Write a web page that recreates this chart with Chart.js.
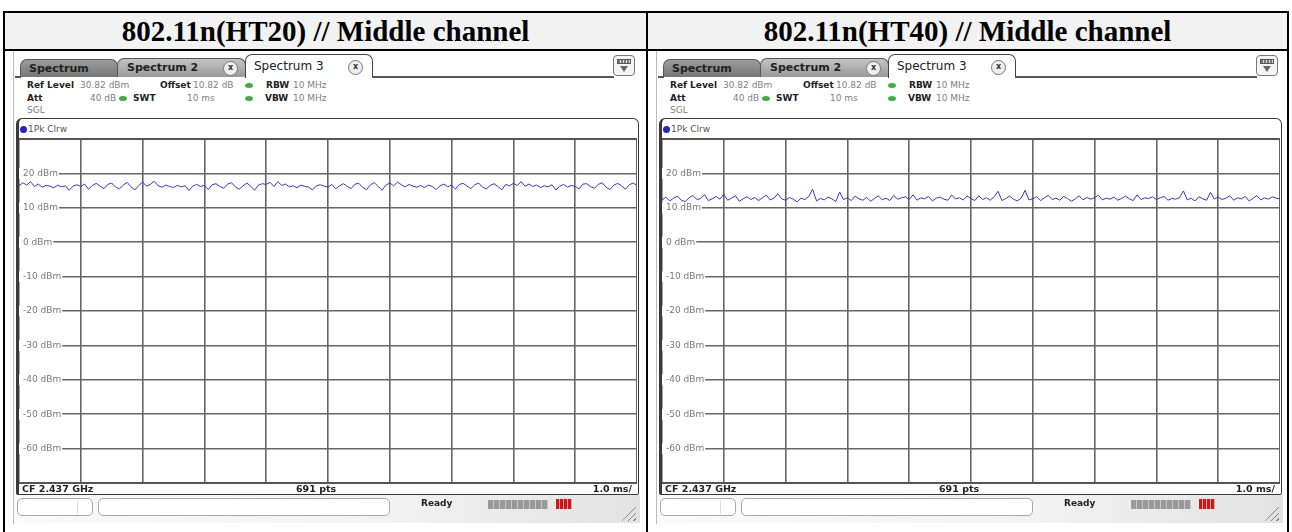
<!DOCTYPE html>
<html>
<head>
<meta charset="utf-8">
<script src="https://cdn.jsdelivr.net/npm/chart.js@4.4.1/dist/chart.umd.min.js"></script>
<style>
  body { margin: 0; width: 1292px; height: 532px; overflow: hidden; background: #fff; position: relative; font-family: "DejaVu Sans", sans-serif; }
  .a { position: absolute; box-sizing: border-box; }
  .line { position: absolute; background: #000; }
  .hdr { position: absolute; top: 13px; height: 36px; background: #f2f2f2; font: bold 29px "Liberation Serif", serif; color: #000; text-align: center; line-height: 36px; }
  .shot { background: #fff; border-left: 1px solid #bbb; }
  .tab { font-size: 11px; font-weight: bold; color: #222; border: 1px solid #555; border-bottom: none; border-radius: 7px 7px 0 0; padding-left: 8px; line-height: 17px; }
  .t1 { background: linear-gradient(#9c9c9c, #767676); }
  .t2 { background: linear-gradient(#c4c4c4, #999); }
  .t3 { background: #fff; font-weight: normal; font-size: 12px; line-height: 22px; border-color: #444; }
  .xb { position: absolute; top: 50%; margin-top: -7px; width: 13px; height: 13px; border: 1px solid #777; border-radius: 50%; font: bold 8px "DejaVu Sans"; line-height: 12px; text-align: center; color: #333; background: #eee; }
  .info { position: absolute; font-size: 9px; line-height: 12px; color: #808080; white-space: nowrap; }
  .info b { color: #222; }
  .gd { position: absolute; width: 8px; height: 5px; border-radius: 50%; background: #3fae3f; }
  .panel { border: 1.5px solid #3a3a3a; border-left: 3px solid #3a3a3a; border-radius: 6px 6px 2px 2px; background: #fff; }
  .foot { position: absolute; font-size: 9.5px; font-weight: bold; color: #222; line-height: 12px; white-space: nowrap; }
  .sbox { border: 1px solid #a8a8a8; border-radius: 5px; background: #fff; }
</style>
</head>
<body>
<div id="root"></div>
<script>
// header texts of the two table cells
const cellTitles = ['802.11n(HT20) // Middle channel', '802.11n(HT40) // Middle channel'];

// sweep settings shown on the analyzer
const sweepMs = 10;
const yMin = -70;
const yMax = 30;
const yStep = 10;

// trace, 16 points per 1 ms division
const ht20Trace = [
  16.4, 17.3, 16.6, 17.6, 16.2, 16.9, 16.0, 16.5, 16.3, 15.8, 16.6, 16.1, 16.4, 15.1, 16.3, 16.7,
  16.2, 16.9, 15.4, 16.5, 17.1, 16.3, 15.6, 16.8, 17.2, 16.0, 15.5, 16.6, 17.4, 16.1, 15.2, 16.5,
  17.5, 16.3, 16.8, 17.7, 16.4, 16.0, 16.6, 16.2, 15.9, 16.5, 16.1, 16.4, 15.0, 16.3, 16.8, 16.2,
  16.5, 15.3, 16.7, 17.0, 16.2, 15.7, 16.9, 17.3, 16.1, 15.4, 16.4, 17.2, 16.3, 15.1, 16.6, 17.0,
  16.8, 17.4, 16.2, 17.6, 16.5, 16.9, 16.1, 16.4, 15.8, 16.6, 16.2, 16.0, 15.2, 16.4, 16.7, 16.3,
  16.0, 16.8, 15.5, 16.4, 17.0, 16.2, 15.6, 16.9, 17.1, 15.9, 15.3, 16.7, 17.3, 16.2, 15.1, 16.6,
  17.2, 16.4, 17.5, 16.7, 16.1, 16.8, 16.3, 16.0, 16.5, 15.9, 16.6, 16.2, 15.3, 16.4, 16.9, 16.1,
  16.6, 15.4, 16.8, 17.1, 16.3, 15.6, 16.7, 17.2, 16.0, 15.5, 16.5, 17.0, 16.2, 15.2, 16.8, 16.4,
  17.1, 16.5, 17.6, 16.3, 16.9, 16.2, 16.6, 15.9, 16.4, 16.1, 16.7, 15.2, 16.3, 16.8, 16.0, 16.5,
  16.2, 15.5, 16.9, 17.0, 16.1, 15.7, 16.8, 17.3, 16.0, 15.3, 16.6, 17.1, 16.4, 15.4, 16.7, 17.2,
  16.5
];

const ht40Trace = [
  12.3, 13.1, 12.0, 12.8, 13.4, 12.2, 11.8, 12.9, 13.6, 12.4, 12.7, 13.8, 12.1, 12.6, 13.3, 12.5,
  13.9, 12.2, 12.8, 13.5, 11.9, 12.6, 13.2, 12.4, 13.0, 12.1, 12.9, 13.7, 12.3, 12.8, 14.1, 12.6,
  12.2, 13.0, 12.5, 11.7, 12.8, 12.4, 13.3, 15.4, 12.0, 12.7, 12.3, 13.1, 12.6, 11.8, 14.6, 12.4,
  12.9, 12.1, 13.4, 12.6, 12.2, 13.0, 11.9, 12.7, 13.5, 12.3, 12.8, 12.1, 13.6, 12.5, 12.9, 13.2,
  12.4, 13.8, 12.2, 12.9, 12.6, 13.3, 12.0, 12.8, 13.1, 12.5, 12.2, 13.7, 12.6, 12.9, 12.3, 13.4,
  12.7, 12.1, 13.5, 12.4, 12.9, 12.2, 13.2, 14.8, 12.1, 12.7, 13.4, 12.5, 12.0, 12.8, 15.1, 12.3,
  12.6, 13.2, 12.1, 12.9, 13.6, 12.4, 12.8, 12.2, 13.3, 12.7, 11.9, 12.6, 13.5, 12.3, 13.0, 12.5,
  12.9, 13.7, 12.3, 12.8, 12.5, 13.1, 12.2, 12.7, 13.4, 12.6, 12.1, 13.8, 12.4, 12.9, 12.7, 13.2,
  12.4, 12.9, 13.3, 12.2, 12.7, 12.5, 13.0, 14.9, 12.3, 12.8, 12.0, 13.2, 12.6, 12.2, 14.5, 12.6,
  13.1, 12.4, 12.8, 13.5, 12.2, 12.9, 12.6, 13.3, 12.0, 12.7, 13.6, 12.3, 12.9, 12.5, 13.2, 12.8,
  12.6
];

const gridColor = '#666';

function panelHtml(dx, id) {
  const L = v => v + dx;
  return `
  <div class="a shot" style="left:${L(13)}px;top:51px;width:628px;height:473px"></div>
  <div class="a" style="left:${L(14)}px;top:495px;width:626px;height:28px;background:linear-gradient(90deg,#fafafa 0%,#f2f2f2 60%,#e2e2e2 100%)"></div>
  <div class="a tab t1" style="left:${L(20)}px;top:59px;width:98px;height:18px">Spectrum</div>
  <div class="a tab t2" style="left:${L(117)}px;top:58px;width:129px;height:19px;padding-left:9px">Spectrum 2<span class="xb" style="left:105px">x</span></div>
  <div class="a tab t3" style="left:${L(245)}px;top:54px;width:128px;height:24px">Spectrum 3<span class="xb" style="left:102px">x</span></div>
  <div class="a" style="left:${L(372)}px;top:76px;width:242px;height:2px;background:#555"></div>
  <div class="a" style="left:${L(15)}px;top:76px;width:6px;height:2px;background:#555"></div>
  <div class="a" style="left:${L(613)}px;top:55px;width:22px;height:21px;border:1px solid #777;border-radius:4px;background:#f4f4f4"></div>
  <div class="a" style="left:${L(617)}px;top:59px;width:14px;height:5px;background:repeating-linear-gradient(90deg,#777 0 2px,#ddd 2px 3px);border:1px solid #555"></div>
  <div class="a" style="left:${L(620)}px;top:66px;width:0;height:0;border-left:4px solid transparent;border-right:4px solid transparent;border-top:6px solid #666"></div>

  <div class="info" style="left:${L(27)}px;top:79px"><b>Ref Level</b></div>
  <div class="info" style="left:${L(80)}px;top:79px">30.82 dBm</div>
  <div class="info" style="left:${L(160)}px;top:79px"><b>Offset</b></div>
  <div class="info" style="left:${L(193)}px;top:79px">10.82 dB</div>
  <div class="gd" style="left:${L(245)}px;top:83px"></div>
  <div class="info" style="left:${L(266)}px;top:79px"><b>RBW</b></div>
  <div class="info" style="left:${L(293)}px;top:79px">10 MHz</div>

  <div class="info" style="left:${L(27)}px;top:92px"><b>Att</b></div>
  <div class="info" style="left:${L(90)}px;top:92px">40 dB</div>
  <div class="gd" style="left:${L(119)}px;top:96px"></div>
  <div class="info" style="left:${L(133)}px;top:92px"><b>SWT</b></div>
  <div class="info" style="left:${L(187)}px;top:92px">10 ms</div>
  <div class="gd" style="left:${L(245)}px;top:96px"></div>
  <div class="info" style="left:${L(265)}px;top:92px"><b>VBW</b></div>
  <div class="info" style="left:${L(293)}px;top:92px">10 MHz</div>

  <div class="info" style="left:${L(27)}px;top:104px">SGL</div>

  <div class="a panel" style="left:${L(16)}px;top:118px;width:623px;height:377px"></div>
  <div class="a" style="left:${L(20)}px;top:126px;width:7px;height:7px;border-radius:50%;background:#2424c8"></div>
  <div class="info" style="left:${L(28)}px;top:123px;color:#555">1Pk Clrw</div>
  <canvas id="${id}" class="a" width="618" height="344" style="left:${L(19)}px;top:139px;width:618px;height:344px"></canvas>
  <div class="a" style="left:${L(19)}px;top:138px;width:618px;height:2px;background:#555"></div>
  <div class="a" style="left:${L(19)}px;top:482px;width:618px;height:2px;background:#555"></div>

  <div class="foot" style="left:${L(22)}px;top:483px">CF 2.437 GHz</div>
  <div class="foot" style="left:${L(296)}px;top:483px">691 pts</div>
  <div class="foot" style="left:${L(582)}px;top:483px;width:50px;text-align:right">1.0 ms/</div>

  <div class="a sbox" style="left:${L(17)}px;top:498px;width:76px;height:18px"></div>
  <div class="a" style="left:${L(77)}px;top:500px;width:1px;height:14px;background:#ddd"></div>
  <div class="a sbox" style="left:${L(98)}px;top:498px;width:292px;height:18px"></div>
  <div class="foot" style="left:${L(421)}px;top:497px;font-size:9px">Ready</div>
  <div class="a" style="left:${L(488)}px;top:500px;width:60px;height:9px;background:repeating-linear-gradient(90deg,#9a9a9a 0 5px,#c8c8c8 5px 6px)"></div>
  <div class="a" style="left:${L(556)}px;top:499px;width:16px;height:10px;background:repeating-linear-gradient(90deg,#c81818 0 3px,#f0a0a0 3px 4px)"></div>
  <div class="a" style="left:${L(622)}px;top:505px;width:14px;height:16px;background:repeating-linear-gradient(135deg,transparent 0 3px,#888 3px 4px);clip-path:polygon(100% 0,100% 100%,0 100%)"></div>
  `;
}

const root = document.getElementById('root');
root.innerHTML = `
  <div class="hdr" style="left:5px;width:641px">${cellTitles[0]}</div>
  <div class="hdr" style="left:648px;width:639px">${cellTitles[1]}</div>
  ${panelHtml(0, 'ht20')}
  ${panelHtml(643, 'ht40')}
  <div class="line" style="left:3px;top:11px;width:1286px;height:2px"></div>
  <div class="line" style="left:3px;top:49px;width:1286px;height:2px"></div>
  <div class="line" style="left:3px;top:11px;width:2px;height:530px"></div>
  <div class="line" style="left:646px;top:11px;width:2px;height:530px"></div>
  <div class="line" style="left:1287px;top:11px;width:2px;height:530px"></div>
`;

function makeChart(canvasId, trace) {
  const points = trace.map((v, i) => ({ x: i * sweepMs / (trace.length - 1), y: v }));
  return new Chart(document.getElementById(canvasId), {
    type: 'line',
    data: {
      datasets: [{
        data: points,
        borderColor: '#3434d8',
        borderWidth: 1,
        pointRadius: 0,
        tension: 0
      }]
    },
    options: {
      responsive: false,
      animation: false,
      layout: { padding: 0 },
      plugins: { legend: { display: false }, tooltip: { enabled: false } },
      scales: {
        x: {
          type: 'linear', min: 0, max: sweepMs,
          ticks: { display: false, stepSize: 1 },
          grid: { color: gridColor, lineWidth: 1.6, drawTicks: false },
          border: { display: false },
          afterFit: s => { s.height = 0; s.paddingLeft = 0; s.paddingRight = 0; }
        },
        y: {
          min: yMin, max: yMax,
          ticks: {
            stepSize: yStep,
            mirror: true,
            padding: 4,
            color: '#7a7a7a',
            font: { family: 'DejaVu Sans', size: 9 },
            showLabelBackdrop: true,
            backdropColor: '#fff',
            backdropPadding: { top: 0, bottom: 0, left: 4, right: 1 },
            callback: v => (v > yMin && v < yMax) ? v + ' dBm' : null
          },
          grid: { color: gridColor, lineWidth: 1.6, drawTicks: false },
          border: { display: false },
          afterFit: s => { s.width = 0; s.paddingTop = 0; s.paddingBottom = 0; }
        }
      }
    }
  });
}

makeChart('ht20', ht20Trace);
makeChart('ht40', ht40Trace);
</script>
</body>
</html>
